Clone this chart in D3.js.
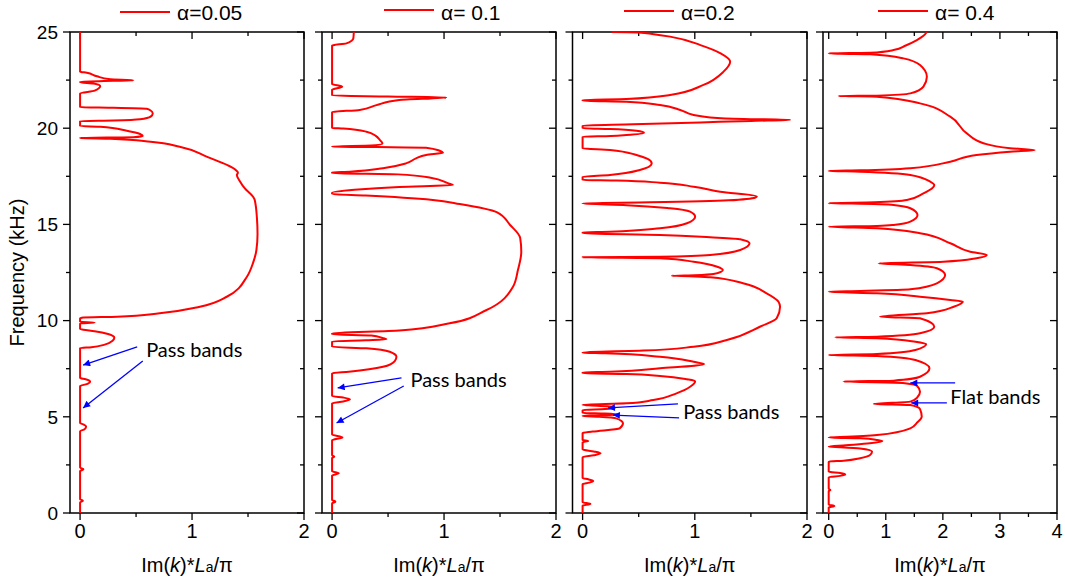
<!DOCTYPE html>
<html>
<head>
<meta charset="utf-8">
<script src="https://cdn.jsdelivr.net/npm/d3@7/dist/d3.min.js"></script>
<style>
  body { margin: 0; background: #fff; }
  text { font-family: "Liberation Sans", Arial, sans-serif; fill: #000; }
</style>
</head>
<body>
<div id="chart"></div>
<script>
// [frequency kHz, Im(k)*La/pi]
const alpha005 = [[0,0],[0.55,0],[0.64,0.025],[0.72,0],[2.18,0],[2.27,0.03],[2.36,0],[4.25,0],[4.35,0.04],[4.49,0.054],[4.6,0.03],[4.68,0],
  [6.6,0],[6.7,0.06],[6.83,0.09],[6.95,0.05],[7.02,0],[8.57,0],[8.62,0.1],[8.75,0.22],[8.95,0.29],[9.11,0.306],[9.3,0.25],[9.45,0.13],[9.53,0.03],[9.56,0],
  [9.85,0],[9.9,0.13],[9.94,0],[10.12,0],[10.16,0.03],[10.2,0.33],[10.38,0.71],[10.72,1.07],[11.24,1.31],[12.28,1.49],[13.0,1.545],[13.67,1.575],[14.5,1.585],
  [15.3,1.58],[16.27,1.56],[16.44,1.545],[16.88,1.47],[17.22,1.43],[17.57,1.4],[17.69,1.41],[17.83,1.39],[18.52,1.13],[19.04,0.89],[19.3,0.63],[19.45,0.27],
  [19.49,0.01],[19.5,0],[19.53,0.476],[19.6,0.56],[19.7,0.536],[19.87,0.417],[20.08,0.18],[20.11,0],[20.37,0],[20.4,0.3],[20.46,0.536],[20.6,0.63],
  [20.77,0.649],[20.92,0.63],[21.01,0.595],[21.06,0.3],[21.09,0],[21.81,0],[21.95,0.13],[22.19,0.18],[22.32,0.12],[22.39,0],[22.42,0],[22.46,0.3],
  [22.49,0.476],[22.54,0.27],[22.7,0.15],[22.88,0.06],[22.94,0],[25,0]];

const alpha01 = [[0,0],[0.5,0],[0.59,0.03],[0.68,0],[1.95,0],[2.06,0.06],[2.17,0],[2.86,0],[2.93,0.02],[3.0,0],[3.78,0],[3.93,0.093],[4.08,0],
  [5.7,0],[5.8,0.1],[5.91,0.16],[6.0,0.1],[6.08,0],[7.26,0],[7.34,0.15],[7.6,0.455],[7.9,0.56],[8.12,0.575],[8.38,0.515],[8.56,0.307],[8.64,0],
  [8.92,0],[8.98,0.3],[9.03,0.486],[9.1,0.45],[9.22,0.35],[9.29,0],[9.34,0],[9.48,0.6],[9.86,1.05],[10.55,1.38],[11.76,1.616],[12.63,1.66],[13.58,1.69],
  [14.3,1.68],[14.97,1.59],[15.64,1.47],[16.06,1.14],[16.27,0.9],[16.5,0.3],[16.58,0],[16.65,0],[16.8,0.2],[16.95,0.6],[17.05,1.08],[17.13,1.04],
  [17.43,0.88],[17.6,0.59],[17.66,0],[17.71,0],[17.74,0.16],[17.92,0.455],[18.17,0.66],[18.43,0.75],[18.61,0.84],[18.73,0.99],[18.83,0.96],[18.99,0.84],
  [19.02,0.4],[19.04,0],[19.1,0.35],[19.21,0.45],[19.39,0.426],[19.6,0.39],[19.82,0.307],[19.98,0.1],[20.01,0],[20.84,0],[20.95,0.247],[21.2,0.396],
  [21.47,0.6],[21.6,1.02],[21.65,0.5],[21.7,0],[22.0,0],[22.16,0.09],[22.3,0],[24.3,0],[24.41,0.128],[24.67,0.19],[25,0.194]];

const alpha02 = [[0,0],[0.38,0],[0.47,0.07],[0.56,0],[1.5,0],[1.58,0.06],[1.66,0.095],[1.75,0.05],[1.82,0],[2.9,0],[3.0,0.1],[3.1,0.16],[3.2,0.1],[3.3,0],
  [3.68,0],[3.74,0.05],[3.8,0],[4.16,0],[4.23,0.09],[4.4,0.33],[4.66,0.36],[4.92,0.3],[5.0,0.15],[5.04,0],[5.06,0],[5.1,0.28],[5.13,0.31],[5.17,0.2],[5.2,0],
  [5.35,0],[5.4,0.2],[5.47,0.29],[5.55,0.22],[5.6,0.05],[5.62,0],[5.7,0.39],[5.87,0.63],[6.22,0.837],[6.56,0.958],[6.85,1.003],[6.95,0.93],[7.12,0.69],
  [7.22,0.39],[7.26,0],[7.31,0],[7.34,0.244],[7.52,0.69],[7.74,1.083],[7.86,0.99],[8.12,0.69],[8.3,0.2],[8.33,0],[8.35,0],[8.44,0.54],[8.64,0.99],
  [8.99,1.286],[9.68,1.58],[10.12,1.73],[10.72,1.76],[10.98,1.746],[11.42,1.64],[11.94,1.43],[12.25,1.137],[12.31,0.95],[12.33,0.795],[12.36,1.0],
  [12.42,1.166],[12.63,1.25],[12.8,1.2],[13.06,0.99],[13.24,0.69],[13.29,0],[13.32,0.69],[13.41,1.137],[13.67,1.405],[14.02,1.488],[14.23,1.405],
  [14.33,1.137],[14.45,0.69],[14.54,0],[14.59,0],[14.62,0.244],[14.8,0.69],[15.06,0.93],[15.4,1.003],[15.66,0.958],[15.84,0.78],[16.0,0.39],[16.08,0],
  [16.1,0],[16.15,0.6],[16.25,1.3],[16.4,1.54],[16.46,1.553],[16.7,1.226],[16.96,0.99],[17.17,0.69],[17.28,0.3],[17.31,0],[17.48,0],[17.57,0.244],
  [17.83,0.51],[18.17,0.616],[18.4,0.58],[18.61,0.48],[18.87,0.244],[18.95,0],[19.56,0],[19.6,0.25],[19.65,0.39],[19.77,0.547],[19.87,0.48],[19.96,0.244],
  [20.0,0],[20.13,0],[20.2,0.45],[20.3,1.05],[20.38,1.5],[20.43,1.85],[20.48,1.434],[20.56,1.137],[20.69,0.99],[20.95,0.87],[21.2,0.69],[21.38,0.39],
  [21.43,0],[21.47,0],[21.52,0.39],[21.73,0.78],[22.25,1.077],[22.94,1.256],[23.46,1.315],[23.89,1.23],[24.32,1.05],[24.76,0.78],[24.9,0.62],[24.98,0.5],[25,0.26]];

const alpha04 = [[0,0],[0.28,0],[0.36,0.1],[0.44,0],[1.14,0],[1.2,0.03],[1.26,0],[1.86,0],[1.93,0.2],[2.0,0.29],[2.08,0.2],[2.15,0],[2.67,0],[2.72,0.26],
  [2.85,0.55],[3.0,0.72],[3.19,0.76],[3.35,0.55],[3.42,0.2],[3.45,0],[3.52,0.3],[3.62,0.72],[3.74,0.94],[3.8,0.85],[3.88,0.55],[3.93,0],[3.95,0.2],
  [4.05,0.846],[4.4,1.43],[4.7,1.55],[5.0,1.63],[5.4,1.6],[5.61,1.43],[5.67,0.79],[5.79,1.43],[6.0,1.55],[6.3,1.6],[6.6,1.55],[6.76,1.3],[6.83,0.26],
  [6.88,1.136],[7.08,1.6],[7.52,1.766],[7.95,1.52],[8.16,0.846],[8.21,0],[8.26,0.846],[8.47,1.52],[8.78,1.708],[8.9,1.52],[9.08,0.846],[9.13,0.117],
  [9.16,0.846],[9.34,1.6],[9.68,1.85],[10.12,1.6],[10.2,0.9],[10.38,1.72],[10.72,2.19],[10.98,2.35],[11.07,2.13],[11.24,1.6],[11.42,0.846],[11.5,0],
  [11.54,0.55],[11.63,1.43],[11.94,1.895],[12.37,2.04],[12.72,1.895],[12.89,1.43],[12.98,0.875],[13.06,2.01],[13.24,2.59],[13.41,2.77],[13.58,2.48],
  [14.02,2.13],[14.54,1.6],[14.8,0.846],[14.88,0],[14.92,0.846],[14.97,1.136],[15.14,1.43],[15.49,1.556],[15.84,1.43],[16.01,1.136],[16.08,0.4],[16.1,0],
  [16.15,0.8],[16.27,1.37],[16.6,1.65],[16.9,1.82],[17.05,1.85],[17.22,1.78],[17.57,1.43],[17.74,0.55],[17.78,0],[17.81,0.55],[17.92,1.43],[18.26,2.13],
  [18.61,2.59],[18.78,3.18],[18.87,3.61],[18.96,3.18],[19.22,2.71],[19.73,2.42],[20.6,2.13],[21.29,1.6],[21.64,0.846],[21.67,0.175],[21.69,0.846],
  [21.81,1.43],[22.16,1.66],[22.68,1.72],[23.28,1.6],[23.63,1.31],[23.84,0.73],[23.87,0.2],[23.89,0],[23.92,0.73],[24.06,1.136],[24.3,1.35],[24.58,1.545],
  [24.8,1.66],[25,1.72]];

const freqTicks = [0, 5, 10, 15, 20, 25];
const xTicks2 = [0, 1, 2];
const xTicks4 = [0, 1, 2, 3, 4];
const legendLabels = ["\u03b1=0.05", "\u03b1= 0.1", "\u03b1=0.2", "\u03b1= 0.4"];

// annotation arrows: [tail value, tail freq, tip value, tip freq]
const arrows1 = [[0.51, 8.63, 0.027, 7.69], [0.56, 7.9, 0.027, 5.46]];
const arrows2 = [[0.62, 7.02, 0.05, 6.5], [0.64, 6.6, 0.04, 4.68]];
const arrows3 = [[0.85, 5.67, 0.226, 5.46], [0.86, 4.94, 0.27, 5.09]];
const arrows4 = [[2.215, 6.76, 1.43, 6.76], [2.07, 5.72, 1.445, 5.72]];
// annotation text: [label, value, freq]
const notes = [["Pass bands", 0.59, 8.47], ["Pass bands", 0.70, 6.91], ["Pass bands", 0.896, 5.25], ["Flat bands", 2.13, 6.03]];

const width = 1065, height = 583;
const plotTop = 32, plotBottom = 513;

const panels = [
  {left: 70,    right: 304,  domain: [-0.09, 2], ticks: xTicks2, data: alpha005, arrows: arrows1, legX: 120, legY: 12},
  {left: 322,   right: 556,  domain: [-0.09, 2], ticks: xTicks2, data: alpha01,  arrows: arrows2, legX: 384, legY: 10},
  {left: 572.5, right: 807,  domain: [-0.09, 2], ticks: xTicks2, data: alpha02,  arrows: arrows3, legX: 624, legY: 11},
  {left: 823,   right: 1057, domain: [-0.1, 4],  ticks: xTicks4, data: alpha04,  arrows: arrows4, legX: 878, legY: 11}
];

const svg = d3.select("#chart").append("svg")
  .attr("width", width).attr("height", height);

svg.append("defs").append("marker")
  .attr("id", "head")
  .attr("viewBox", "0 0 10 10")
  .attr("refX", 10).attr("refY", 5)
  .attr("markerWidth", 12).attr("markerHeight", 7)
  .attr("markerUnits", "userSpaceOnUse")
  .attr("orient", "auto")
  .append("path").attr("d", "M0,0L10,5L0,10Z").attr("fill", "#0000ff");

const y = d3.scaleLinear().domain([0, 25]).range([plotBottom, plotTop]);
const yMinor = d3.range(0, 25.01, 2.5);

panels.forEach((p, i) => {
  const x = d3.scaleLinear().domain(p.domain).range([p.left, p.right]);
  const g = svg.append("g");
  const xMinor = d3.range(0, p.domain[1] + 0.01, 0.5);

  const tickLen = v => (Math.abs(v - Math.round(v)) < 1e-6 ? 7 : 4);
  const yTickLen = v => (v % 5 === 0 ? 7 : 4);

  g.selectAll(".xb").data(xMinor).enter().append("line")
    .attr("x1", d => x(d)).attr("x2", d => x(d))
    .attr("y1", plotBottom).attr("y2", d => plotBottom + tickLen(d))
    .attr("stroke", "#000").attr("stroke-width", 1.3);
  g.selectAll(".xt").data(xMinor).enter().append("line")
    .attr("x1", d => x(d)).attr("x2", d => x(d))
    .attr("y1", plotTop).attr("y2", d => plotTop + tickLen(d))
    .attr("stroke", "#000").attr("stroke-width", 1.3);
  g.selectAll(".yl").data(yMinor).enter().append("line")
    .attr("y1", d => y(d)).attr("y2", d => y(d))
    .attr("x1", p.left).attr("x2", d => p.left - yTickLen(d))
    .attr("stroke", "#000").attr("stroke-width", 1.3);
  g.selectAll(".yr").data(yMinor).enter().append("line")
    .attr("y1", d => y(d)).attr("y2", d => y(d))
    .attr("x1", p.right).attr("x2", d => p.right - yTickLen(d))
    .attr("stroke", "#000").attr("stroke-width", 1.3);

  g.append("rect")
    .attr("x", p.left).attr("y", plotTop)
    .attr("width", p.right - p.left).attr("height", plotBottom - plotTop)
    .attr("fill", "none").attr("stroke", "#000").attr("stroke-width", 1.5);

  g.selectAll(".xl").data(p.ticks).enter().append("text")
    .attr("x", d => x(d)).attr("y", plotBottom + 25)
    .attr("text-anchor", "middle")
    .style("font-size", "20px")
    .text(d => d);

  if (i === 0) {
    g.selectAll(".ylab").data(freqTicks).enter().append("text")
      .attr("x", p.left - 12).attr("y", d => y(d))
      .attr("dy", "0.36em")
      .attr("text-anchor", "end")
      .style("font-size", "19px")
      .text(d => d);
    svg.append("text")
      .attr("transform", `translate(24,${(plotTop + plotBottom) / 2}) rotate(-90)`)
      .attr("text-anchor", "middle")
      .style("font-size", "20px")
      .text("Frequency (kHz)");
  }

  const xt = g.append("text")
    .attr("x", (p.left + p.right) / 2).attr("y", plotBottom + 59)
    .attr("text-anchor", "middle")
    .style("font-size", "20px");
  xt.append("tspan").text("Im(");
  xt.append("tspan").style("font-style", "italic").text("k");
  xt.append("tspan").text(")*");
  xt.append("tspan").style("font-style", "italic").text("L");
  xt.append("tspan").style("font-size", "14px").text("a");
  xt.append("tspan").text("/\u03c0");

  const line = d3.line()
    .x(d => x(d[1]))
    .y(d => y(d[0]))
    .curve(d3.curveMonotoneY);
  g.append("path")
    .datum(p.data)
    .attr("d", line)
    .attr("fill", "none")
    .attr("stroke", "#ff0000")
    .attr("stroke-width", 2)
    .attr("stroke-linejoin", "round");

  g.append("line")
    .attr("x1", p.legX).attr("x2", p.legX + 50)
    .attr("y1", p.legY).attr("y2", p.legY)
    .attr("stroke", "#ff0000").attr("stroke-width", 2);
  g.append("text")
    .attr("x", p.legX + 57).attr("y", 20)
    .style("font-size", "21px")
    .text(legendLabels[i]);

  g.selectAll(".arr").data(p.arrows).enter().append("line")
    .attr("x1", d => x(d[0])).attr("y1", d => y(d[1]))
    .attr("x2", d => x(d[2])).attr("y2", d => y(d[3]))
    .attr("stroke", "#0000ff").attr("stroke-width", 1.3)
    .attr("marker-end", "url(#head)");
  const n = notes[i];
  g.append("text")
    .attr("x", x(n[1])).attr("y", y(n[2]))
    .attr("dy", "0.35em")
    .style("font-family", "Lato, 'Open Sans', sans-serif")
    .style("font-size", "20px")
    .text(n[0]);
});
</script>
</body>
</html>
